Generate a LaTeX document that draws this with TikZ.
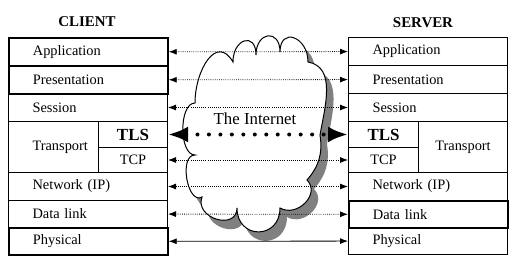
\documentclass[tikz,border=0pt]{standalone}
\usepackage{fontspec}
\setmainfont{Liberation Serif}
\usetikzlibrary{arrows.meta}

% outline of the internet cloud, clockwise
\newcommand\netcloud{(195,103) to[out=90,in=120,looseness=1.5] (233,62)
  to[out=90,in=90,looseness=2.5] (256,55)
  to[out=90,in=90,looseness=2.5] (280,52)
  to[out=90,in=90,looseness=2.2] (308,62)
  to[out=-10,in=80] (320,135)
  to[bend left=25] (307,180)
  to[out=-45,in=-30,looseness=1.3] (280,208)
  to[out=-90,in=-90,looseness=1.9] (237,208)
  to[out=-90,in=-110,looseness=1.6] (202,197)
  to[out=210,in=180] (195,155)
  to[out=180,in=180,looseness=0.8] (195,103) -- cycle}

\begin{document}
\begin{tikzpicture}[x=0.75pt, y=-0.75pt,
    layer/.style={draw, line width=0.75pt, anchor=north west, text width=83.25pt,
      inner xsep=18pt, inner ysep=0pt, align=left, font=\fontsize{10.8}{12}\selectfont},
    sublayer/.style={draw, fill=white, line width=0.75pt, anchor=north west,
      inner sep=0pt, align=center, font=\fontsize{10.8}{12}\selectfont},
    heavy/.style={line width=1.3pt},
    tlsfont/.style={font=\fontsize{12.7}{14}\selectfont\bfseries},
    side/.style={font=\fontsize{11.2}{13}\selectfont\bfseries},
    link/.style={{Latex[length=6pt,width=4.5pt]}-{Latex[length=6pt,width=4.5pt]},
      densely dotted, line width=0.6pt},
    tlslink/.style={{Latex[length=15pt,width=12pt]}-{Latex[length=15pt,width=12pt]},
      line width=3pt, line cap=round, dash pattern=on 0pt off 8.6pt}]

    \useasboundingbox (0,0) rectangle (521,271);

    % cloud with its shadow
    \fill[black!50, shift={(7,9)}] \netcloud;
    \filldraw[fill=white, draw=black, line width=0.75pt] \netcloud;
    \node[font=\fontsize{12.6}{14}\selectfont] (net) at (255,119) {The Internet};

    % client stack
    \node[side] (client) at (87,22) {CLIENT};
    \node[layer, heavy, minimum height=21pt] (capp) at (8,37) {Application};
    \node[layer, heavy, minimum height=21pt] (cpres) at (8,65) {Presentation};
    \node[layer, minimum height=21pt] (csess) at (8,93) {Session};
    \node[layer, minimum height=38.25pt] (ctrans) at (8,121) {Transport};
    \node[sublayer, tlsfont, minimum width=51.75pt, minimum height=19.5pt] (ctls) at (98,121) {TLS};
    \node[sublayer, minimum width=51.75pt, minimum height=18.75pt] (ctcp) at (98,147) {TCP};
    \node[layer, minimum height=21pt] (cnet) at (8,172) {Network (IP)};
    \node[layer, minimum height=20.25pt] (clink) at (8,200) {Data link};
    \node[layer, heavy, minimum height=20.25pt] (cphys) at (8,227) {Physical};

    % server stack
    \node[side] (server) at (423,23) {SERVER};
    \node[layer, minimum height=21pt] (sapp) at (348,37) {Application};
    \node[layer, minimum height=21pt] (spres) at (348,65) {Presentation};
    \node[layer, minimum height=21pt] (ssess) at (348,93) {Session};
    \node[sublayer, tlsfont, minimum width=52.5pt, minimum height=19.5pt] (stls) at (348,121) {TLS};
    \node[sublayer, minimum width=52.5pt, minimum height=18.75pt] (stcp) at (348,147) {TCP};
    \node[sublayer, minimum width=66.75pt, minimum height=38.25pt] (strans) at (418,121) {Transport};
    \node[layer, minimum height=21pt] (snet) at (348,172) {Network (IP)};
    \node[layer, heavy, minimum height=20.25pt] (slink) at (348,200) {Data link};
    \node[layer, minimum height=20.25pt] (sphys) at (348,227) {Physical};

    % peer links
    \draw[link] (capp) -- (sapp);
    \draw[link] (cpres) -- (spres);
    \draw[link] (csess) -- (ssess);
    \draw[tlslink] (ctls) -- (stls);
    \draw[link] (ctcp) -- (stcp);
    \draw[link] (cnet) -- (snet);
    \draw[link] (clink) -- (slink);
    \draw[link, solid] (cphys) -- (sphys);
\end{tikzpicture}
\end{document}
